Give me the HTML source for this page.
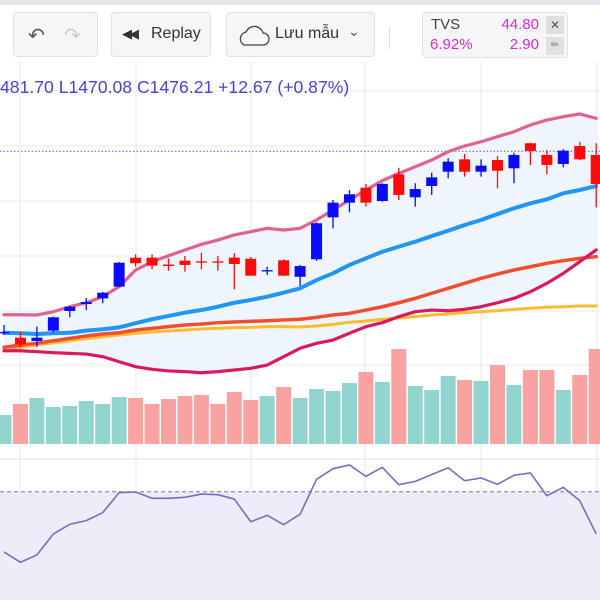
<!DOCTYPE html>
<html><head><meta charset="utf-8">
<style>
body{margin:0;width:600px;height:600px;overflow:hidden;background:#fff;font-family:"Liberation Sans",sans-serif;position:relative}
.btn{position:absolute;top:12px;height:45px;background:#f6f6f7;border:1px solid #e2e2e5;border-radius:4px;box-sizing:border-box;color:#333;font-size:16px}
</style></head><body>
<div style="position:absolute;left:0;top:0;width:600px;height:5px;background:#e4e6ec"></div>
<svg id="chart" width="600" height="600" style="position:absolute;left:0;top:0"></svg>
<div class="btn" style="left:13px;width:85px">
  <span style="position:absolute;left:14px;top:10px;font-size:20px;color:#555">&#8630;</span>
  <span style="position:absolute;left:50px;top:10px;font-size:20px;color:#ccc">&#8631;</span>
</div>
<div class="btn" style="left:111px;width:100px"><span style="position:absolute;left:10px;top:13px;font-size:13px;letter-spacing:-3px">&#9664;&#9664;</span><span style="position:absolute;left:39px;top:12px">Replay</span></div>
<div class="btn" style="left:226px;width:149px">
  <svg style="position:absolute;left:9px;top:11px" width="34" height="24"><path d="M8 21 H27 A6 6 0 0 0 27 9 A9 9 0 0 0 10 8 A7 7 0 0 0 8 21 Z" fill="none" stroke="#444" stroke-width="1.3"/></svg>
  <span style="position:absolute;left:48px;top:12px">Lưu mẫu</span>
  <span style="position:absolute;left:121px;top:10px;font-size:14px;color:#555">&#8964;</span>
</div>
<div style="position:absolute;left:389px;top:27px;width:1px;height:22px;background:#ddd"></div>
<div style="position:absolute;left:422px;top:12px;width:146px;height:46px;background:#f6f6f7;border:1px solid #e2e2e5;border-radius:4px;box-sizing:border-box;font-size:15px">
  <span style="position:absolute;left:8px;top:3px;color:#444">TVS</span>
  <span style="position:absolute;right:28px;top:3px;color:#d62ad8">44.80</span>
  <span style="position:absolute;left:7px;top:23px;color:#d62ad8">6.92%</span>
  <span style="position:absolute;right:28px;top:23px;color:#d62ad8">2.90</span>
  <span style="position:absolute;left:123px;top:3px;width:18px;height:18px;background:#e0e0e0;color:#555;font-size:12px;text-align:center;line-height:18px">&#10005;</span>
  <span style="position:absolute;left:123px;top:24px;width:18px;height:18px;background:#e0e0e0;color:#777;font-size:10px;text-align:center;line-height:18px">&#9999;</span>
</div>
<div style="position:absolute;left:0;top:77px;font-size:17.6px;color:#4545d6;white-space:nowrap">481.70 L1470.08 C1476.21 +12.67 (+0.87%)</div>
<script>
const opens=[1344.0,1340.6,1338.2,1345.7,1360.0,1365.1,1369.2,1377.7,1398.8,1398.8,1393.8,1396.6,1396.1,1396.1,1398.8,1398.0,1389.0,1396.9,1384.9,1397.6,1428.1,1438.8,1449.7,1440.0,1459.4,1442.7,1450.9,1461.3,1470.3,1461.3,1469.8,1463.8,1482.0,1473.5,1466.9,1480.0,1473.5];
const highs=[1349.8,1344.9,1348.6,1355.9,1363.6,1369.5,1373.8,1395.6,1401.2,1401.2,1398.3,1400.0,1402.4,1400.0,1402.0,1399.3,1392.2,1397.6,1393.5,1424.4,1440.7,1448.0,1452.4,1452.9,1464.2,1452.9,1460.6,1471.1,1474.2,1470.3,1472.7,1475.1,1482.4,1477.1,1477.6,1483.1,1482.0];
const lows=[1342.5,1333.6,1334.0,1344.2,1355.4,1360.7,1365.6,1377.5,1392.2,1390.3,1389.3,1388.6,1390.3,1389.3,1375.8,1385.5,1386.2,1385.5,1378.2,1396.4,1420.1,1431.8,1435.9,1439.5,1440.7,1435.9,1444.4,1456.5,1457.7,1457.7,1449.2,1452.9,1466.2,1459.4,1464.5,1469.8,1435.4];
const closes=[1344.7,1335.8,1340.6,1355.4,1363.1,1366.5,1373.3,1395.1,1394.7,1393.0,1392.7,1393.5,1395.4,1395.4,1394.2,1385.7,1389.7,1385.7,1392.7,1423.8,1438.8,1444.9,1438.8,1452.4,1444.4,1448.7,1457.2,1468.6,1461.3,1465.7,1462.0,1473.5,1476.4,1466.2,1476.6,1470.3,1452.4];
const bbUpper=[1357.3,1357.3,1357.1,1359.5,1363.1,1366.0,1370.4,1377.7,1389.8,1395.9,1400.2,1404.4,1408.5,1411.6,1415.3,1417.7,1420.1,1418.9,1420.1,1426.2,1433.5,1440.7,1448.0,1454.8,1460.1,1464.9,1469.8,1475.9,1480.0,1483.1,1486.8,1490.4,1495.3,1498.9,1501.3,1503.3,1500.1];
const bbMiddle=[1344.2,1343.8,1343.3,1343.8,1344.2,1345.7,1346.7,1348.1,1351.1,1354.0,1356.4,1358.8,1360.7,1363.1,1366.0,1368.0,1370.4,1373.3,1376.5,1382.5,1387.4,1393.5,1398.3,1403.1,1406.8,1410.4,1414.5,1418.4,1422.5,1426.2,1430.5,1434.7,1438.3,1441.2,1445.6,1448.0,1450.9];
const bbLower=[1331.1,1331.1,1330.4,1329.7,1329.2,1328.7,1326.8,1323.1,1319.5,1317.6,1316.4,1315.9,1315.1,1315.9,1317.1,1318.3,1320.7,1326.8,1332.9,1336.5,1338.9,1343.8,1348.6,1351.5,1355.9,1359.5,1360.7,1360.2,1361.2,1363.1,1366.0,1369.2,1374.0,1380.1,1387.4,1395.9,1404.4];
const maMid=[1333.6,1335.3,1336.5,1338.4,1340.1,1341.8,1343.3,1344.2,1346.2,1347.4,1348.6,1349.8,1350.5,1351.5,1352.0,1352.5,1352.9,1353.5,1354.0,1355.4,1357.1,1358.3,1360.7,1363.1,1366.0,1369.2,1372.9,1376.5,1380.1,1383.8,1386.9,1389.8,1392.2,1394.7,1396.6,1398.3,1399.5];
const maLong=[1331.6,1333.6,1335.3,1336.9,1338.4,1339.9,1341.3,1342.5,1343.8,1344.7,1345.5,1346.2,1346.9,1347.4,1347.9,1348.1,1348.6,1348.6,1348.4,1349.1,1350.3,1351.8,1352.7,1354.0,1354.9,1355.9,1357.1,1357.8,1358.8,1359.5,1360.2,1361.2,1362.0,1362.7,1363.1,1363.6,1363.6];
const volumes=[290,400,460,370,380,430,400,470,460,400,450,480,490,400,520,440,480,570,460,550,530,610,720,620,950,580,540,680,640,630,790,590,740,740,540,690,950];
const rsi=[31.5,24.9,29.6,43.0,49.2,51.5,56.6,69.4,69.8,65.8,65.8,66.4,68.5,68.1,65.3,50.8,54.9,48.9,55.6,77.9,84.7,87.1,79.8,85.6,74.5,76.6,80.9,85.3,77.0,78.8,74.7,80.5,82.0,67.4,72.8,64.3,43.0];
const lastClose=1476.21;
const rsiLevel=70;

const NS='http://www.w3.org/2000/svg';
const svg=document.getElementById('chart');
const xAt=i=>4+16.45*i;
const yP=p=>201-(p-1440)*1.375;
const yV=v=>444-v/10;
const yR=v=>523-(v-50)*1.565;
function mk(tag,attrs,parent){const e=document.createElementNS(NS,tag);for(const k in attrs)e.setAttribute(k,attrs[k]);(parent||svg).appendChild(e);return e;}

const grid=mk('g',{});


[20,136,251,365,481,597].forEach(x=>mk('line',{x1:x,x2:x,y1:62,y2:600,stroke:'#e9e9ef','stroke-width':1},grid));
[91,146,201,256,311,365,523,588].forEach(y=>mk('line',{x1:0,x2:600,y1:y,y2:y,stroke:'#e9e9ef','stroke-width':1},grid));
const sep=mk('line',{x1:0,x2:600,y1:459,y2:459,stroke:'#e0e0e6','stroke-width':1});



const pts=a=>a.map((v,i)=>xAt(i)+','+yP(v));
const fill=mk('polygon',{points:pts(bbUpper).concat(pts(bbLower).reverse()).join(' '),fill:'#eef5fc'});



const vg=mk('g',{});


volumes.forEach((v,i)=>{
  const up=closes[i]>=opens[i];
  const r=mk('rect',{x:xAt(i)-7.5,y:yV(v),width:15,height:444-yV(v),fill:up?'#92d5cf':'#f8a2a2'},vg);
  
  
});

const cl=mk('line',{x1:0,x2:600,y1:yP(lastClose),y2:yP(lastClose),stroke:'#5b5bdc','stroke-width':1,'stroke-dasharray':'1.5,2'});



function line(arr,color,w,name){
  const p=mk('polyline',{points:pts(arr).join(' '),fill:'none',stroke:color,'stroke-width':w,'stroke-linejoin':'round','stroke-linecap':'round'});
  
  
}
line(maLong,'#fbbd2e',3,'ma-long-line');
line(maMid,'#f04e2f',3.5,'ma-mid-line');
line(bbLower,'#d81b60',3.2,'bollinger-lower');
line(bbUpper,'#e0628f',3.2,'bollinger-upper');
line(bbMiddle,'#2196f3',4,'bollinger-middle');

const cg=mk('g',{});


opens.forEach((o,i)=>{
  const c=closes[i],up=c>=o,col=up?'#0a0aff':'#ff0a0a',x=xAt(i);
  const g=mk('g',{},cg);
  
  
  mk('line',{x1:x,x2:x,y1:yP(highs[i]),y2:yP(lows[i]),stroke:col,'stroke-width':1.3},g);
  const t=yP(Math.max(o,c)),b=yP(Math.min(o,c));
  mk('rect',{x:x-5.5,y:t,width:11,height:Math.max(b-t,1.3),fill:col},g);
});

const rf=mk('rect',{x:0,y:yR(rsiLevel),width:600,height:600-yR(rsiLevel),fill:'#efebf8'});


const rl=mk('line',{x1:0,x2:600,y1:yR(rsiLevel),y2:yR(rsiLevel),stroke:'#7a7a80','stroke-width':1,'stroke-dasharray':'4,3'});


const rp=mk('polyline',{points:rsi.map((v,i)=>xAt(i)+','+yR(v)).join(' '),fill:'none',stroke:'#7e6bbd','stroke-width':1.6,'stroke-linejoin':'round'});


</script>
</body></html>
